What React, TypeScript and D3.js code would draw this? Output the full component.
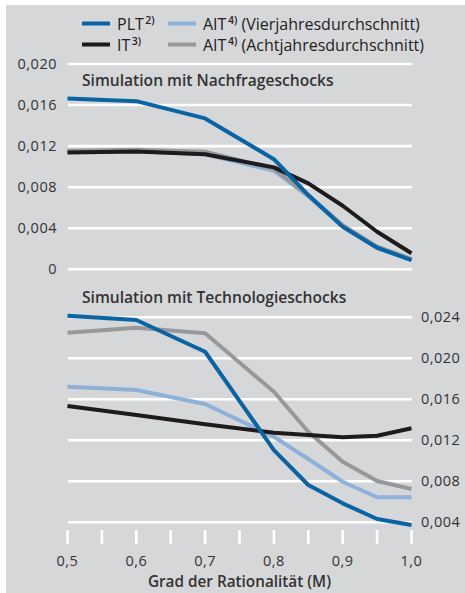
import React from "react";
import * as d3 from "d3";

const xValues = [0.5, 0.6, 0.7, 0.8, 0.85, 0.9, 0.95, 1.0];
const xTickValues = [0.5, 0.55, 0.6, 0.65, 0.7, 0.75, 0.8, 0.85, 0.9, 0.95, 1.0];
const xLabelValues = [0.5, 0.6, 0.7, 0.8, 0.9, 1.0];

const topPLT = [0.01664, 0.01638, 0.0147, 0.01073, 0.00723, 0.00415, 0.0021, 0.0009];
const topIT = [0.01139, 0.01148, 0.0112, 0.00993, 0.00837, 0.00619, 0.00366, 0.00156];
const topAIT4 = [0.0114, 0.0115, 0.0112, 0.0096, 0.0071, 0.0042, 0.0021, 0.0009];
const topAIT8 = [0.01155, 0.01165, 0.01145, 0.0098, 0.0072, 0.0043, 0.0022, 0.001];

const botPLT = [0.02416, 0.02374, 0.02064, 0.01105, 0.00764, 0.00585, 0.00432, 0.00374];
const botIT = [0.01535, 0.01447, 0.01356, 0.01274, 0.01252, 0.01229, 0.01245, 0.01317];
const botAIT4 = [0.01723, 0.01691, 0.01554, 0.01235, 0.01018, 0.00796, 0.00644, 0.00644];
const botAIT8 = [0.0225, 0.02299, 0.02244, 0.01674, 0.01284, 0.00991, 0.00803, 0.00725];

const topTicks = [0, 0.004, 0.008, 0.012, 0.016, 0.02];
const botTicks = [0.004, 0.008, 0.012, 0.016, 0.02, 0.024];

const COLORS = { PLT: "#0a64a4", IT: "#1d1b1c", AIT4: "#8eb0d9", AIT8: "#97989a" };
const FONT = "'Open Sans', sans-serif";
const TEXT = "#333333";

const fmt = (v: number) => (v === 0 ? "0" : v.toFixed(3).replace(".", ","));
const fmtX = (v: number) => v.toFixed(1).replace(".", ",");

export default function App() {
  const x = d3.scaleLinear().domain([0.5, 1.0]).range([67.5, 411.5]);
  const yTop = d3.scaleLinear().domain([0, 0.02]).range([269.3, 64]);
  const yBot = d3.scaleLinear().domain([0.004, 0.024]).range([522.3, 317.3]);

  const mkLine = (y: d3.ScaleLinear<number, number>) =>
    d3
      .line<number>()
      .x((_, i) => x(xValues[i]))
      .y((d) => y(d));

  const topLine = mkLine(yTop);
  const botLine = mkLine(yBot);

  const topSeries = [
    { d: topAIT4, c: COLORS.AIT4 },
    { d: topAIT8, c: COLORS.AIT8 },
    { d: topIT, c: COLORS.IT },
    { d: topPLT, c: COLORS.PLT },
  ];
  const botSeries = [
    { d: botAIT4, c: COLORS.AIT4 },
    { d: botAIT8, c: COLORS.AIT8 },
    { d: botIT, c: COLORS.IT },
    { d: botPLT, c: COLORS.PLT },
  ];

  const legend = [
    { label: "PLT", sup: "2)", rest: "", c: COLORS.PLT, lx: 82, tx: 117, y: 23.5 },
    { label: "IT", sup: "3)", rest: "", c: COLORS.IT, lx: 82, tx: 117, y: 44.5 },
    { label: "AIT", sup: "4)", rest: " (Vierjahresdurchschnitt)", c: COLORS.AIT4, lx: 168, tx: 203, y: 23.5 },
    { label: "AIT", sup: "4)", rest: " (Achtjahresdurchschnitt)", c: COLORS.AIT8, lx: 168, tx: 203, y: 44.5 },
  ];

  return (
    <svg width={465} height={593} style={{ display: "block", position: "absolute", left: 0, top: 0 }}>
      <rect x={6} y={5} width={459} height={588} fill="#d6d7d9" />

      {/* legend */}
      {legend.map((l, i) => (
        <g key={i}>
          <line x1={l.lx} x2={l.lx + 28} y1={l.y} y2={l.y} stroke={l.c} strokeWidth={4} />
          <text x={l.tx} y={l.y + 6.5} fontFamily={FONT} fontSize={16} fill="#222">
            {l.label}
            <tspan fontSize={10.5} fontWeight={600} dy={-6.5} dx={1.5}>{l.sup}</tspan>
            <tspan dy={6.5}>{l.rest}</tspan>
          </text>
        </g>
      ))}

      {/* top grid */}
      {topTicks.map((t) => (
        <g key={"tt" + t}>
          <line x1={68} x2={412} y1={yTop(t)} y2={yTop(t)} stroke="#fff" strokeWidth={2.6} />
          <text x={57} y={yTop(t) + 5} textAnchor="end" fontFamily={FONT} fontSize={14.5} letterSpacing={0.5} fill={TEXT}>
            {fmt(t)}
          </text>
        </g>
      ))}
      <text x={82} y={86} fontFamily={FONT} fontSize={15.6} fontWeight={600} fill={TEXT}>
        Simulation mit Nachfrageschocks
      </text>
      {topSeries.map((s, i) => (
        <path key={"ts" + i} d={topLine(s.d) || ""} fill="none" stroke={s.c} strokeWidth={4} strokeLinejoin="round" />
      ))}

      {/* bottom grid */}
      {botTicks.map((t) => (
        <g key={"bt" + t}>
          <line x1={68} x2={412} y1={yBot(t)} y2={yBot(t)} stroke="#fff" strokeWidth={2.6} />
          <text x={421} y={yBot(t) + 5} textAnchor="start" fontFamily={FONT} fontSize={14.5} letterSpacing={0.5} fill={TEXT}>
            {fmt(t)}
          </text>
        </g>
      ))}
      <text x={82} y={303} fontFamily={FONT} fontSize={15.6} fontWeight={600} fill={TEXT}>
        Simulation mit Technologieschocks
      </text>
      {botSeries.map((s, i) => (
        <path key={"bs" + i} d={botLine(s.d) || ""} fill="none" stroke={s.c} strokeWidth={4} strokeLinejoin="round" />
      ))}

      {/* x axis */}
      {xTickValues.map((t) => (
        <line key={"xt" + t} x1={x(t)} x2={x(t)} y1={530} y2={544} stroke="#fff" strokeWidth={2.6} />
      ))}
      {xLabelValues.map((t) => (
        <text key={"xl" + t} x={x(t)} y={565.5} textAnchor="middle" fontFamily={FONT} fontSize={14.5} letterSpacing={0.5} fill={TEXT}>
          {fmtX(t)}
        </text>
      ))}
      <text x={239.5} y={587} textAnchor="middle" fontFamily={FONT} fontSize={15.3} fontWeight={600} fill={TEXT}>
        Grad der Rationalität (M)
      </text>
    </svg>
  );
}
